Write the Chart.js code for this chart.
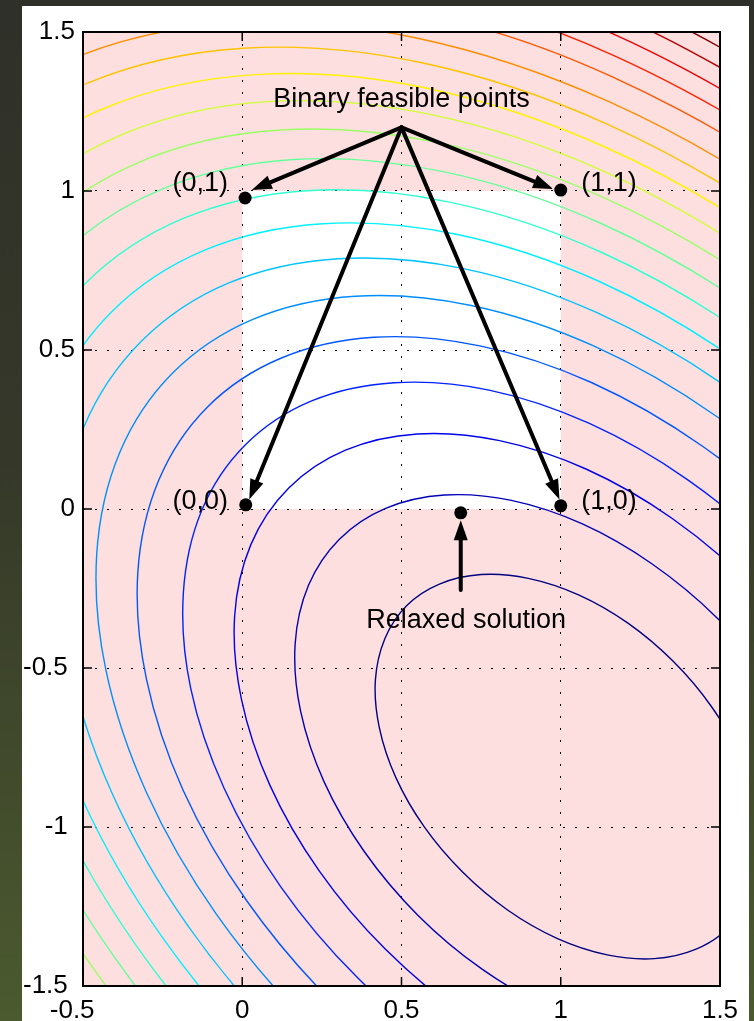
<!DOCTYPE html>
<html>
<head>
<meta charset="utf-8">
<title>Binary feasible points</title>
<script src="https://cdn.jsdelivr.net/npm/chart.js@4.4.1/dist/chart.umd.min.js"></script>
<style>
  html, body { margin: 0; padding: 0; }
  body { width: 754px; height: 1021px; overflow: hidden; position: relative;
         background: linear-gradient(to bottom, #2f3029 0%, #353829 45%, #4b5a2f 100%); }
  .paper { position: absolute; left: 22px; top: 6px; width: 727px; height: 1015px; background: #fff; }
  #chart { position: absolute; left: 0; top: 0; }
</style>
</head>
<body>
<div class="paper"></div>
<canvas id="chart" width="754" height="1021"></canvas>
<script>
// contour lines of the objective, lowest level first, as [x, y] points
const CONTOUR_1 = [[1.596,-1.213],[1.528,-1.316],[1.425,-1.384],[1.294,-1.414],[1.146,-1.402],[0.988,-1.350],[0.833,-1.261],[0.691,-1.141],[0.571,-0.999],[0.482,-0.844],[0.430,-0.686],[0.418,-0.538],[0.448,-0.407],[0.516,-0.304],[0.619,-0.236],[0.750,-0.206],[0.898,-0.218],[1.056,-0.270],[1.211,-0.359],[1.353,-0.479],[1.473,-0.621],[1.562,-0.776],[1.614,-0.934]];
const CONTOUR_2 = [[1.197,-1.647],[0.972,-1.573],[0.753,-1.447],[0.552,-1.278],[0.383,-1.077],[0.257,-0.858],[0.183,-0.635],[0.166,-0.425],[0.208,-0.240],[0.305,-0.095],[0.450,0.002],[0.635,0.044],[0.845,0.027],[1.068,-0.047],[1.287,-0.173],[1.490,-0.342],[1.657,-0.543],[1.785,-0.762]];
const CONTOUR_3 = [[0.963,-1.745],[0.695,-1.591],[0.449,-1.384],[0.241,-1.137],[0.087,-0.869],[-0.003,-0.596],[-0.024,-0.338],[0.027,-0.112],[0.146,0.066],[0.324,0.185],[0.550,0.236],[0.808,0.215],[1.081,0.125],[1.349,-0.029],[1.596,-0.237],[1.803,-0.483]];
const CONTOUR_4 = [[0.954,-1.889],[0.644,-1.711],[0.360,-1.472],[0.121,-1.188],[-0.057,-0.878],[-0.162,-0.563],[-0.185,-0.265],[-0.127,-0.004],[0.010,0.202],[0.216,0.339],[0.477,0.397],[0.775,0.374],[1.090,0.269],[1.400,0.091],[1.684,-0.148],[1.923,-0.432]];
const CONTOUR_5 = [[0.600,-1.818],[0.282,-1.550],[0.014,-1.232],[-0.185,-0.886],[-0.301,-0.534],[-0.328,-0.201],[-0.262,0.091],[-0.109,0.321],[0.121,0.474],[0.413,0.540],[0.746,0.513],[1.098,0.397],[1.444,0.198],[1.762,-0.070],[2.030,-0.388]];
const CONTOUR_6 = [[0.559,-1.914],[0.211,-1.621],[-0.082,-1.273],[-0.300,-0.893],[-0.428,-0.507],[-0.457,-0.143],[-0.385,0.177],[-0.217,0.429],[0.035,0.597],[0.355,0.669],[0.719,0.640],[1.105,0.512],[1.485,0.294],[1.833,0.001],[2.126,-0.347]];
const CONTOUR_7 = [[0.522,-2.003],[0.146,-1.686],[-0.171,-1.310],[-0.406,-0.900],[-0.544,-0.483],[-0.575,-0.089],[-0.498,0.256],[-0.316,0.528],[-0.044,0.710],[0.301,0.787],[0.695,0.756],[1.112,0.618],[1.522,0.383],[1.898,0.066]];
const CONTOUR_8 = [[0.488,-2.085],[0.086,-1.747],[-0.253,-1.344],[-0.505,-0.906],[-0.652,-0.460],[-0.685,-0.040],[-0.602,0.330],[-0.409,0.621],[-0.118,0.814],[0.252,0.897],[0.672,0.864],[1.118,0.717],[1.556,0.465],[1.959,0.127]];
const CONTOUR_9 = [[0.455,-2.162],[0.029,-1.803],[-0.330,-1.377],[-0.597,-0.912],[-0.753,-0.439],[-0.789,0.007],[-0.701,0.399],[-0.495,0.707],[-0.187,0.913],[0.205,1.001],[0.651,0.965],[1.124,0.809],[1.589,0.542],[2.015,0.183]];
const CONTOUR_10 = [[0.425,-2.235],[-0.025,-1.857],[-0.403,-1.407],[-0.685,-0.917],[-0.849,-0.419],[-0.887,0.051],[-0.794,0.464],[-0.578,0.790],[-0.252,1.006],[0.161,1.099],[0.631,1.061],[1.129,0.897],[1.619,0.615],[2.069,0.237]];
const CONTOUR_11 = [[0.396,-2.305],[-0.076,-1.908],[-0.473,-1.437],[-0.768,-0.922],[-0.941,-0.400],[-0.980,0.093],[-0.883,0.526],[-0.656,0.868],[-0.314,1.095],[0.119,1.192],[0.612,1.153],[1.134,0.980],[1.649,0.685],[2.120,0.288]];
const CONTOUR_12 = [[-1.069,0.134],[-0.967,0.586],[-0.730,0.942],[-0.374,1.179],[0.078,1.281],[0.594,1.240],[1.139,1.060],[1.676,0.751],[2.169,0.337]];
const CONTOUR_13 = [[-1.154,0.172],[-1.049,0.643],[-0.802,1.014],[-0.431,1.261],[0.040,1.366],[0.576,1.324],[1.144,1.136],[1.703,0.815],[2.216,0.384]];
const CONTOUR_14 = [[-1.127,0.698],[-0.871,1.083],[-0.486,1.339],[0.003,1.449],[0.560,1.404],[1.149,1.209],[1.729,0.876],[2.261,0.429]];
const CONTOUR_15 = [[-1.202,0.750],[-0.937,1.149],[-0.538,1.414],[-0.033,1.528],[0.543,1.482],[1.153,1.280],[1.754,0.936],[2.304,0.472]];
const CONTOUR_16 = [[0.124,1.619],[0.324,1.603],[0.529,1.569],[0.739,1.516],[0.950,1.447],[1.162,1.359],[1.373,1.255],[1.582,1.136],[1.785,1.002],[1.984,0.854]];
const CONTOUR_17 = [[0.303,1.677],[0.514,1.642],[0.730,1.588],[0.948,1.516],[1.167,1.426],[1.384,1.319],[1.599,1.196],[1.809,1.057],[2.013,0.905]];
const CONTOUR_18 = [[0.282,1.749],[0.499,1.713],[0.721,1.657],[0.946,1.583],[1.171,1.491],[1.394,1.381],[1.615,1.254],[1.831,1.112],[2.042,0.955]];
const CONTOUR_19 = [[0.485,1.782],[0.713,1.725],[0.944,1.649],[1.175,1.554],[1.405,1.441],[1.631,1.311],[1.853,1.164],[2.070,1.003]];
const CONTOUR_20 = [[0.705,1.791],[0.942,1.713],[1.178,1.615],[1.414,1.499],[1.647,1.366],[1.875,1.215],[2.097,1.050]];

const CONTOURS = [CONTOUR_1, CONTOUR_2, CONTOUR_3, CONTOUR_4, CONTOUR_5, CONTOUR_6, CONTOUR_7,
  CONTOUR_8, CONTOUR_9, CONTOUR_10, CONTOUR_11, CONTOUR_12, CONTOUR_13, CONTOUR_14,
  CONTOUR_15, CONTOUR_16, CONTOUR_17, CONTOUR_18, CONTOUR_19, CONTOUR_20];

// jet-like palette, navy (low) -> maroon (high)
const LEVEL_COLORS = ['#000080', '#0000b5', '#0000eb', '#0022ff', '#0057ff', '#008dff', '#00c3ff',
  '#00f0ff', '#2fffd0', '#65ff9a', '#9aff65', '#d0ff2f', '#fff200', '#ffc300', '#ff8d00',
  '#ff5700', '#ff2200', '#eb0000', '#b50000', '#800000'];

// the four binary points and the relaxed optimum
const POINT_X = [0.009, 1.0, 0.011, 1.0, 0.686];
const POINT_Y = [0.978, 1.003, 0.013, 0.010, -0.012];

// white unit box [0,1] x [0,1]
const BOX_X = [0, 1];
const BOX_Y = [0, 1];

const ARROW_FROM_X = [0.5, 0.5, 0.5, 0.5, 0.686];
const ARROW_FROM_Y = [1.2, 1.2, 1.2, 1.2, -0.255];
const ARROW_TO_X = [0.03, 0.976, 0.022, 0.996, 0.686];
const ARROW_TO_Y = [1.003, 1.006, 0.03, 0.03, -0.035];

const LABEL_TEXT = ['Binary feasible points', '(0,1)', '(1,1)', '(0,0)', '(1,0)', 'Relaxed solution'];
const LABEL_X = [0.5, -0.045, 1.064, -0.045, 1.064, 0.703];
const LABEL_Y = [1.264, 1.0, 1.0, 0.0, 0.0, -0.373];
const LABEL_ALIGN = ['center', 'right', 'left', 'right', 'left', 'center'];

// negative labels sit a little left of the others in the original, hence the trailing spaces
const X_TICKS = [-0.5, 0, 0.5, 1, 1.5];
const X_TICK_LABELS = ['-0.5   ', '0', '0.5', '1', '1.5'];
const Y_TICKS = [-1.5, -1, -0.5, 0, 0.5, 1, 1.5];
const Y_TICK_LABELS = ['-1.5 ', '-1 ', '-0.5 ', '0', '0.5', '1', '1.5'];

const FONT = '"Liberation Sans", Arial, Helvetica, sans-serif';

function drawArrow(ctx, x0, y0, x1, y1) {
  const ang = Math.atan2(y1 - y0, x1 - x0);
  const len = 20, half = 7;
  const bx = x1 - len * Math.cos(ang), by = y1 - len * Math.sin(ang);
  ctx.beginPath();
  ctx.moveTo(x0, y0);
  ctx.lineTo(bx, by);
  ctx.stroke();
  ctx.beginPath();
  ctx.moveTo(x1, y1);
  ctx.lineTo(bx + half * Math.sin(ang), by - half * Math.cos(ang));
  ctx.lineTo(bx - half * Math.sin(ang), by + half * Math.cos(ang));
  ctx.closePath();
  ctx.fill();
}

const backdrop = {
  id: 'backdrop',
  beforeDraw(chart) {
    const { ctx, chartArea: a, scales: { x, y } } = chart;
    ctx.save();
    ctx.fillStyle = '#fddfdf';
    ctx.fillRect(a.left, a.top, a.width, a.height);
    const bx0 = x.getPixelForValue(BOX_X[0]), bx1 = x.getPixelForValue(BOX_X[1]);
    const by0 = y.getPixelForValue(BOX_Y[0]), by1 = y.getPixelForValue(BOX_Y[1]);
    ctx.fillStyle = '#ffffff';
    ctx.fillRect(bx0, by1, bx1 - bx0, by0 - by1);
    ctx.restore();
  }
};

const frame = {
  id: 'frame',
  afterDatasetsDraw(chart) {
    const { ctx, chartArea: a, scales: { x, y } } = chart;
    ctx.save();
    // inward ticks, mirrored on all four sides
    ctx.strokeStyle = '#000';
    ctx.lineWidth = 1.5;
    ctx.beginPath();
    X_TICKS.forEach(v => {
      const px = x.getPixelForValue(v);
      ctx.moveTo(px, a.bottom); ctx.lineTo(px, a.bottom - 9);
      ctx.moveTo(px, a.top); ctx.lineTo(px, a.top + 9);
    });
    Y_TICKS.forEach(v => {
      const py = y.getPixelForValue(v);
      ctx.moveTo(a.left, py); ctx.lineTo(a.left + 9, py);
      ctx.moveTo(a.right, py); ctx.lineTo(a.right - 9, py);
    });
    ctx.stroke();
    ctx.lineWidth = 2;
    ctx.strokeRect(a.left, a.top, a.width, a.height);

    // arrows
    ctx.lineWidth = 4;
    ctx.lineCap = 'round';
    ctx.fillStyle = '#000';
    ARROW_FROM_X.forEach((fx, i) => {
      drawArrow(ctx, x.getPixelForValue(fx), y.getPixelForValue(ARROW_FROM_Y[i]),
        x.getPixelForValue(ARROW_TO_X[i]), y.getPixelForValue(ARROW_TO_Y[i]));
    });

    // labels
    ctx.font = '27px ' + FONT;
    ctx.textBaseline = 'alphabetic';
    LABEL_TEXT.forEach((t, i) => {
      ctx.textAlign = LABEL_ALIGN[i];
      ctx.fillText(t, x.getPixelForValue(LABEL_X[i]), y.getPixelForValue(LABEL_Y[i]));
    });
    ctx.restore();
  }
};

const datasets = [{
  data: POINT_X.map((v, i) => ({ x: v, y: POINT_Y[i] })),
  showLine: false,
  pointRadius: 6.5,
  pointBackgroundColor: '#000',
  pointBorderWidth: 0,
  order: 0
}];
CONTOURS.forEach((pts, i) => {
  datasets.push({
    data: pts.map(p => ({ x: p[0], y: p[1] })),
    showLine: true,
    borderColor: LEVEL_COLORS[i],
    borderWidth: 1.4,
    pointRadius: 0,
    tension: 0.34,
    order: 1
  });
});

const tickFont = { family: FONT, size: 26 };

new Chart(document.getElementById('chart'), {
  type: 'scatter',
  data: { datasets },
  options: {
    responsive: false,
    animation: false,
    events: [],
    layout: { padding: { left: 0, top: 32, right: 34, bottom: 0 } },
    elements: { line: { capBezierPoints: false } },
    plugins: { legend: { display: false }, tooltip: { enabled: false } },
    scales: {
      x: {
        type: 'linear', min: -0.5, max: 1.5,
        afterBuildTicks: s => { s.ticks = X_TICKS.map(v => ({ value: v })); },
        afterFit: s => { s.height = 35; },
        grid: { color: '#000', lineWidth: 1, drawTicks: false },
        border: { display: false, dash: [2, 10] },
        ticks: { autoSkip: false, maxRotation: 0, padding: 9, color: '#000', font: tickFont,
          callback: v => X_TICK_LABELS[X_TICKS.indexOf(v)] }
      },
      y: {
        type: 'linear', min: -1.5, max: 1.5,
        afterBuildTicks: s => { s.ticks = Y_TICKS.map(v => ({ value: v })); },
        afterFit: s => { s.width = 83; },
        grid: { color: '#000', lineWidth: 1, drawTicks: false },
        border: { display: false, dash: [2, 10] },
        ticks: { autoSkip: false, padding: 8, color: '#000', font: tickFont,
          callback: v => Y_TICK_LABELS[Y_TICKS.indexOf(v)] }
      }
    }
  },
  plugins: [backdrop, frame]
});
</script>
</body>
</html>
